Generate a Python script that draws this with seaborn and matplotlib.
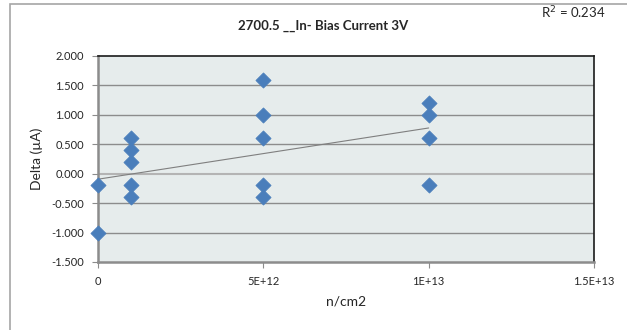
import matplotlib
matplotlib.use("Agg")
import matplotlib.pyplot as plt
import matplotlib.patches as mpatches
import seaborn as sns
import pandas as pd
import numpy as np

# ______________ data ______________
fluence = [0, 0, 1e12, 1e12, 1e12, 1e12, 1e12,
           5e12, 5e12, 5e12, 5e12, 5e12,
           1e13, 1e13, 1e13, 1e13]
delta = [-0.2, -1.0, 0.6, 0.4, 0.2, -0.2, -0.4,
         1.6, 1.0, 0.6, -0.2, -0.4,
         1.2, 1.0, 0.6, -0.2]
x_ticks = [0, 5e12, 1e13, 1.5e13]
x_labels = ["0", "5E+12", "1E+13", "1.5E+13"]
y_ticks = [-1.5, -1.0, -0.5, 0.0, 0.5, 1.0, 1.5, 2.0]
y_labels = ["-1.500", "-1.000", "-0.500", "0.000", "0.500", "1.000", "1.500", "2.000"]
title = "2700.5 __In- Bias Current 3V"
r2_text = "R$^2$ = 0.234"

df = pd.DataFrame({"fluence": fluence, "delta": delta})

sns.set_theme(style="white")
plt.rcParams['font.family'] = ['Lato', 'DejaVu Sans']

fig = plt.figure(figsize=(6.27, 3.30), dpi=100)
# outer chart frame
fig.patches.append(mpatches.Rectangle((10 / 627, -0.1), 1.2, (330 - 4) / 330 + 0.1,
                                      transform=fig.transFigure, fill=False,
                                      edgecolor="#A6A6A6", linewidth=1.2))

ax = fig.add_axes([98 / 627, 1 - 262 / 330, (594 - 98) / 627, (262 - 56) / 330])
ax.set_facecolor("#E6ECEC")

for y in y_ticks[1:-1]:
    # zero line is a lighter grey in the original
    col = "#B4B4B4" if y == 0 else "#8C8C8C"
    lw = 1.5 if y == 0 else 1.0
    ax.axhline(y, color=col, linewidth=lw, zorder=0)

sns.regplot(data=df, x="fluence", y="delta", ax=ax, scatter=False, ci=None,
            truncate=True, line_kws={"color": "#7F7F7F", "linewidth": 0.8})
sns.scatterplot(data=df, x="fluence", y="delta", ax=ax, marker="D", s=60,
                color="#4A7EBB", edgecolor="#4A7EBB", linewidth=0.5, zorder=3,
                clip_on=False)

ax.set_xlim(0, 1.5e13)
ax.set_ylim(-1.5, 2.0)
ax.set_xticks(x_ticks)
ax.set_xticklabels(x_labels, fontsize=8)
ax.set_yticks(y_ticks)
ax.set_yticklabels(y_labels, fontsize=8)
ax.tick_params(axis="both", direction="out", length=4, width=0.8, color="#8C8C8C",
               bottom=True, left=True, pad=6)

ax.set_xlabel("n/cm2", fontsize=10, labelpad=6)
ax.set_ylabel("Delta (µA)", fontsize=10, labelpad=6)

for side in ["top", "right"]:
    ax.spines[side].set_color("#1A1A1A")
    ax.spines[side].set_linewidth(1.2)
for side in ["left", "bottom"]:
    ax.spines[side].set_color("#8C8C8C")
    ax.spines[side].set_linewidth(1.8)

fig.text(323 / 627, 1 - 26 / 330, title, ha="center", va="center",
         fontsize=9.5, fontweight="bold")
fig.text(541 / 627, 1 - 13 / 330, r2_text, ha="left", va="center", fontsize=9.5)

fig.savefig("out.png", dpi=100)
